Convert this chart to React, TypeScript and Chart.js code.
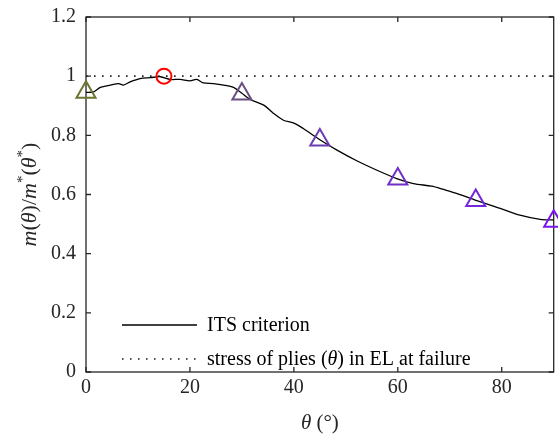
import React, { useEffect, useRef } from 'react';
import { Chart, registerables } from 'chart.js';

Chart.register(...registerables);

// ITS criterion curve: theta (deg) vs m(theta)/m*(theta*)
const THETA = [0, 1.5, 2.75, 4.7, 6.3, 7.2, 8.5, 10.4, 12.4, 14.3, 16.2, 18.1, 20, 21.3, 22.6, 24.5, 26.5, 28.4, 30, 31.6, 34.2, 36.1, 38, 39.9, 41.8, 45, 48.3, 52.1, 56, 59.8, 63, 66.5, 68.8, 71.3, 75.2, 79.7, 83.5, 87.4, 90];
const RATIO = [0.945, 0.947, 0.962, 0.97, 0.975, 0.97, 0.981, 0.992, 0.995, 0.998, 0.989, 0.989, 0.984, 0.989, 0.977, 0.975, 0.97, 0.962, 0.942, 0.921, 0.902, 0.874, 0.851, 0.842, 0.823, 0.785, 0.75, 0.714, 0.682, 0.654, 0.637, 0.628, 0.617, 0.604, 0.579, 0.553, 0.53, 0.516, 0.514];

// stress of plies in EL at failure (reference level)
const REF_THETA = [0, 90];
const REF_RATIO = [1, 1];

// triangle markers
const MARKER_THETA = [0, 30, 45, 60, 75, 90];
const MARKER_RATIO = [0.946, 0.94, 0.784, 0.652, 0.58, 0.51];
const MARKER_COLORS = ['#6b7530', '#6b4f80', '#6b3db0', '#7030c8', '#7526dc', '#7a14f0'];

// optimum (circle)
const OPT_THETA = [15];
const OPT_RATIO = [1.0];

const X_TICKS = [0, 20, 40, 60, 80];
const Y_TICKS = [0, 0.2, 0.4, 0.6, 0.8, 1, 1.2];
const Y_TICK_LABELS = ['0', '0.2', '0.4', '0.6', '0.8', '1', '1.2'];
const LEGEND_LABELS = ['ITS criterion', 'stress of plies (θ) in EL at failure'];

const FONT = 'Liberation Serif';
const TEXT_COLOR = '#262626';

type Seg = { t: string; it?: boolean; sup?: boolean };

function segsFromText(text: string): Seg[] {
  const out: Seg[] = [];
  let cur = '';
  for (const ch of text) {
    if (ch === 'θ') {
      if (cur) out.push({ t: cur });
      cur = '';
      out.push({ t: 'θ', it: true });
    } else cur += ch;
  }
  if (cur) out.push({ t: cur });
  return out;
}

function segFont(s: Seg, size: number) {
  const sz = s.sup ? Math.round(size * 0.7) : size;
  return `${s.it ? 'italic ' : ''}${sz}px "${FONT}"`;
}

function measureSegs(ctx: CanvasRenderingContext2D, segs: Seg[], size: number) {
  let w = 0;
  for (const s of segs) {
    ctx.font = segFont(s, size);
    w += ctx.measureText(s.t).width;
  }
  return w;
}

function drawSegs(ctx: CanvasRenderingContext2D, segs: Seg[], x: number, baseline: number, size: number) {
  let cx = x;
  ctx.textBaseline = 'alphabetic';
  ctx.textAlign = 'left';
  for (const s of segs) {
    ctx.font = segFont(s, size);
    ctx.fillText(s.t, cx, s.sup ? baseline - size * 0.4 : baseline);
    cx += ctx.measureText(s.t).width;
  }
}

const Y_TITLE: Seg[] = [
  { t: 'm', it: true }, { t: '(' }, { t: 'θ', it: true }, { t: ')' }, { t: '/' },
  { t: 'm', it: true }, { t: '*', sup: true }, { t: '(' }, { t: 'θ', it: true }, { t: '*', sup: true }, { t: ')' },
];
const X_TITLE: Seg[] = [{ t: 'θ', it: true }, { t: ' (°)' }];

// target plot-area box inside the 558x439 picture
const AREA = { left: 86, top: 17, right: 553.7, bottom: 372 };

const framePlugin = {
  id: 'frame',
  beforeDatasetsDraw(chart: any) {
    const { ctx, chartArea: a, scales } = chart;
    ctx.save();
    ctx.strokeStyle = TEXT_COLOR;
    ctx.lineWidth = 1.3;
    ctx.strokeRect(a.left, a.top, a.right - a.left, a.bottom - a.top);
    const tl = 5;
    ctx.beginPath();
    for (const v of X_TICKS) {
      const px = scales.x.getPixelForValue(v);
      ctx.moveTo(px, a.bottom);
      ctx.lineTo(px, a.bottom - tl);
      ctx.moveTo(px, a.top);
      ctx.lineTo(px, a.top + tl);
    }
    for (const v of Y_TICKS) {
      const py = scales.y.getPixelForValue(v);
      ctx.moveTo(a.left, py);
      ctx.lineTo(a.left + tl, py);
      ctx.moveTo(a.right, py);
      ctx.lineTo(a.right - tl, py);
    }
    ctx.stroke();
    ctx.restore();
  },
  afterDraw(chart: any) {
    const { ctx, chartArea: a } = chart;
    const ds = chart.data.datasets;
    ctx.save();
    ctx.fillStyle = TEXT_COLOR;
    // legend
    const lx0 = a.left + 36;
    const lx1 = a.left + 111;
    const rows = [a.bottom - 47, a.bottom - 13];
    [0, 1].forEach((i) => {
      const d = ds[i];
      const y = rows[i];
      ctx.save();
      ctx.strokeStyle = d.borderColor;
      ctx.lineWidth = d.borderWidth;
      ctx.setLineDash(d.borderDash || []);
      ctx.beginPath();
      ctx.moveTo(lx0, y);
      ctx.lineTo(lx1, y);
      ctx.stroke();
      ctx.restore();
      ctx.fillStyle = 'black';
      drawSegs(ctx, segsFromText(LEGEND_LABELS[i]), lx1 + 10, y + 6, 20);
    });
    // x title
    ctx.fillStyle = TEXT_COLOR;
    const xw = measureSegs(ctx, X_TITLE, 21);
    drawSegs(ctx, X_TITLE, (a.left + a.right) / 2 - xw / 2, 429, 21);
    // y title
    const yw = measureSegs(ctx, Y_TITLE, 22);
    ctx.translate(30, (a.top + a.bottom) / 2);
    ctx.rotate(-Math.PI / 2);
    drawSegs(ctx, Y_TITLE, -yw / 2, 6, 22);
    ctx.restore();
  },
};

// force the plot area to the target box regardless of point-overflow padding
const areaPlugin = {
  id: 'area',
  afterLayout(chart: any) {
    const ca = chart.chartArea;
    ca.left = AREA.left;
    ca.right = AREA.right;
    ca.top = AREA.top;
    ca.bottom = AREA.bottom;
    ca.width = AREA.right - AREA.left;
    ca.height = AREA.bottom - AREA.top;
    const x = chart.scales.x;
    x.left = AREA.left;
    x.right = AREA.right;
    x.width = AREA.right - AREA.left;
    x.top = AREA.bottom;
    x.bottom = 439;
    x.height = 439 - AREA.bottom;
    x.configure();
    const y = chart.scales.y;
    y.top = AREA.top;
    y.bottom = AREA.bottom;
    y.height = AREA.bottom - AREA.top;
    y.left = 0;
    y.right = AREA.left;
    y.width = AREA.left;
    y.configure();
  },
};

export default function App() {
  const ref = useRef<HTMLCanvasElement | null>(null);

  useEffect(() => {
    if (!ref.current) return;
    const chart = new Chart(ref.current, {
      type: 'scatter',
      data: {
        datasets: [
          {
            label: LEGEND_LABELS[0],
            data: THETA.map((x, i) => ({ x, y: RATIO[i] })),
            showLine: true,
            borderColor: '#000000',
            borderWidth: 1.3,
            pointRadius: 0,
            tension: 0.3,
            order: 1,
          },
          {
            label: LEGEND_LABELS[1],
            data: REF_THETA.map((x, i) => ({ x, y: REF_RATIO[i] })),
            showLine: true,
            borderColor: '#222222',
            borderWidth: 1.6,
            borderDash: [1.6, 6.4],
            pointRadius: 0,
            order: 2,
          },
          {
            label: 'markers',
            data: MARKER_THETA.map((x, i) => ({ x, y: MARKER_RATIO[i] })),
            showLine: false,
            pointStyle: 'triangle',
            pointRadius: 11,
            pointBorderWidth: 2,
            pointBorderColor: MARKER_COLORS,
            pointBackgroundColor: 'rgba(0,0,0,0)',
            clip: false,
            order: 0,
          },
          {
            label: 'optimum',
            data: OPT_THETA.map((x, i) => ({ x, y: OPT_RATIO[i] })),
            showLine: false,
            pointStyle: 'circle',
            pointRadius: 7.5,
            pointBorderWidth: 2,
            pointBorderColor: '#ff0000',
            pointBackgroundColor: 'rgba(0,0,0,0)',
            clip: false,
            order: 0,
          },
        ] as any,
      },
      options: {
        responsive: false,
        animation: false,
        devicePixelRatio: 1,
        layout: { autoPadding: false, padding: { left: 0, right: 4, top: 17, bottom: 0 } },
        plugins: {
          legend: { display: false },
          tooltip: { enabled: false },
        },
        scales: {
          x: {
            type: 'linear',
            min: 0,
            max: 90,
            afterBuildTicks: (s: any) => {
              s.ticks = X_TICKS.map((v) => ({ value: v }));
            },
            afterFit: (s: any) => {
              s.height = 67;
            },
            grid: { display: false, drawTicks: false },
            border: { display: false },
            ticks: {
              padding: 4,
              autoSkip: false,
              maxRotation: 0,
              color: TEXT_COLOR,
              font: { family: FONT, size: 20 },
              callback: (v: any) => String(v),
            },
          },
          y: {
            type: 'linear',
            min: 0,
            max: 1.2,
            afterBuildTicks: (s: any) => {
              s.ticks = Y_TICKS.map((v) => ({ value: v }));
            },
            afterFit: (s: any) => {
              s.width = 86;
            },
            grid: { display: false, drawTicks: false },
            border: { display: false },
            ticks: {
              padding: 10,
              autoSkip: false,
              color: TEXT_COLOR,
              font: { family: FONT, size: 20 },
              callback: (_v: any, i: number) => Y_TICK_LABELS[i],
            },
          },
        },
      } as any,
      plugins: [areaPlugin, framePlugin],
    });
    return () => chart.destroy();
  }, []);

  return (
    <div style={{ position: 'absolute', left: 0, top: 0, width: 558, height: 439, background: '#ffffff' }}>
      <canvas ref={ref} width={558} height={439} style={{ display: 'block', width: 558, height: 439 }} />
    </div>
  );
}
